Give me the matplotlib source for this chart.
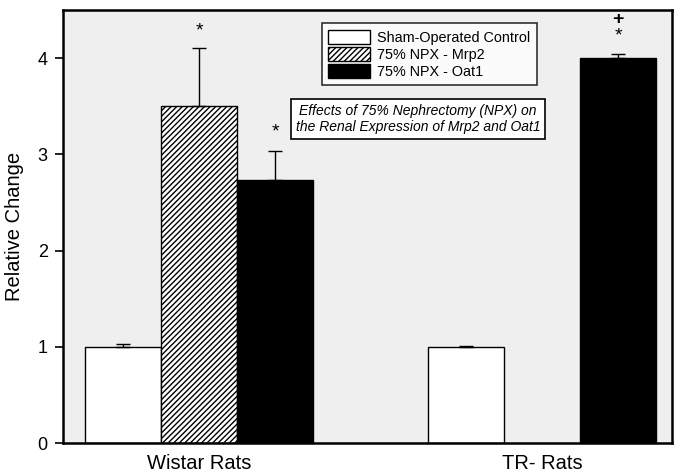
import matplotlib
matplotlib.use('Agg')
import matplotlib.pyplot as plt
import numpy as np

plt.rcParams['font.family'] = ['Liberation Sans', 'DejaVu Sans']
plt.rcParams['hatch.linewidth'] = 1.0

groups = ['Wistar Rats', 'TR- Rats']
series = ['Sham-Operated Control', '75% NPX - Mrp2', '75% NPX - Oat1']
sham = [1.0, 1.0]
sham_err = [0.03, 0.006]
mrp2 = [3.5, np.nan]
mrp2_err = [0.6, np.nan]
oat1 = [2.73, 4.0]
oat1_err = [0.3, 0.04]
marks = [('*', 0, 1, 4.28), ('*', 0, 2, 3.23), ('*', 1, 2, 4.23), ('+', 1, 2, 4.40)]

fig = plt.figure(figsize=(6.74, 4.75), dpi=100)
ax = fig.add_axes([63 / 674, 32 / 475, 609 / 674, 433 / 475])
ax.set_facecolor('#efefef')

x = np.arange(len(groups))
w = 0.222
err_kw = dict(ecolor='black', elinewidth=1.0, capsize=5, capthick=1.0)

ax.bar(x - w, sham, w, color='white', edgecolor='black', linewidth=1.0,
       label=series[0])
ax.errorbar(x - w, sham, yerr=[np.zeros(2), sham_err], fmt='none', **err_kw)

ax.bar(x[:1], mrp2[:1], w, color='white', edgecolor='black', linewidth=1.0,
       hatch='//////', label=series[1])
ax.errorbar(x[:1], mrp2[:1], yerr=[[0], mrp2_err[:1]], fmt='none', **err_kw)

ax.bar(x + w, oat1, w, color='black', edgecolor='black', linewidth=1.0,
       label=series[2])
ax.errorbar(x + w, oat1, yerr=[np.zeros(2), oat1_err], fmt='none', **err_kw)

for sym, g, s, yv in marks:
    ax.text(x[g] + (s - 1) * w, yv, sym, ha='center', va='center',
            fontsize=14, fontweight='bold' if sym == '+' else 'normal')

ax.set_xlim(-0.3965, 1.379)
ax.set_ylim(0, 4.5)
ax.set_yticks([0, 1, 2, 3, 4])
ax.set_xticks(x)
ax.set_xticklabels(groups, fontsize=14.5)
ax.tick_params(axis='x', length=0, pad=8)
ax.tick_params(axis='y', labelsize=13, length=6, width=1.2, direction='out', pad=5)
ax.set_ylabel('Relative Change', fontsize=14.5, labelpad=10)
for sp in ax.spines.values():
    sp.set_linewidth(1.8)

leg = ax.legend(loc='upper left', bbox_to_anchor=(0.425, 0.969), fontsize=10.4,
                frameon=True, fancybox=False, edgecolor='black',
                handlelength=2.9, handleheight=1.15, borderpad=0.45,
                labelspacing=0.12, handletextpad=0.5, borderaxespad=0)
leg.get_frame().set_linewidth(1.2)
leg.get_frame().set_facecolor('white')

ax.text(0.583, 0.748, 'Effects of 75% Nephrectomy (NPX) on\nthe Renal Expression of Mrp2 and Oat1',
        transform=ax.transAxes, ha='center', va='center', fontsize=10,
        style='italic', linespacing=1.15,
        bbox=dict(boxstyle='square,pad=0.35', facecolor='white',
                  edgecolor='black', linewidth=1.2))

fig.savefig('out.png', dpi=100)
